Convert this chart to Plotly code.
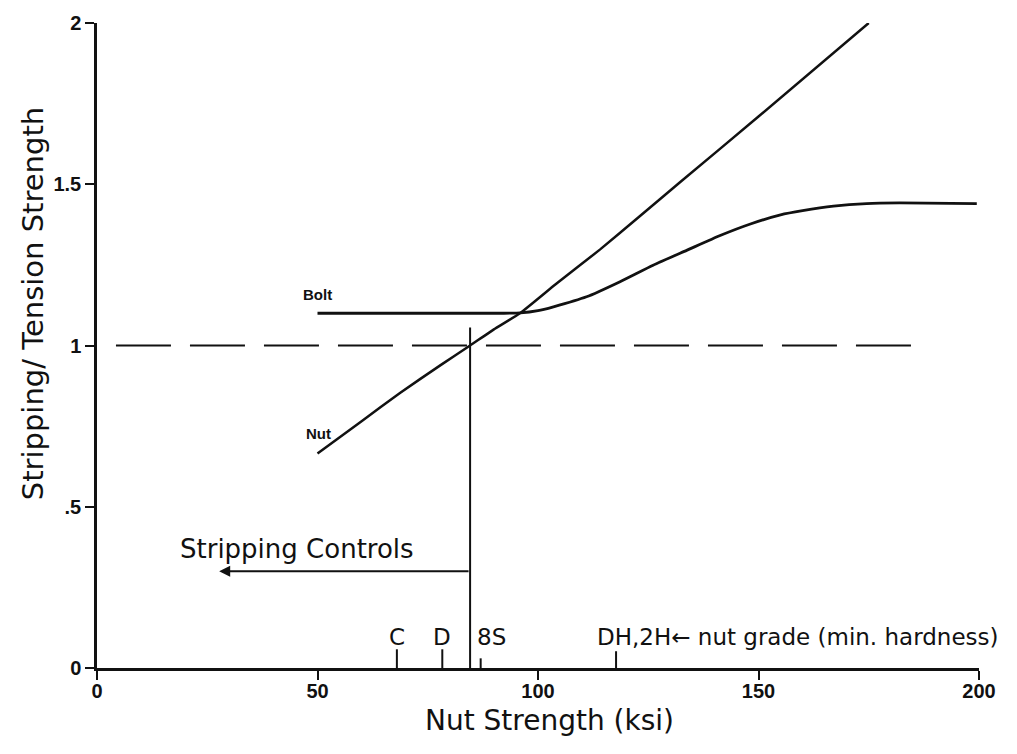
import plotly.graph_objects as go

# Nut stripping curve (stripping / tension strength vs nut strength)
nut_x = [50, 60, 68.7, 78, 84.6, 90, 95.9, 104, 114.1, 123, 132.2, 150, 175]
nut_y = [0.665, 0.765, 0.853, 0.94, 1.0, 1.05, 1.10, 1.19, 1.298, 1.40, 1.506, 1.71, 2.0]

# Bolt curve
bolt_x = [50, 92, 96, 100, 103.5, 111, 118.6, 126.1, 133.7, 141.3, 148, 155, 160, 167, 174.5, 182, 199.5]
bolt_y = [1.10, 1.10, 1.101, 1.108, 1.12, 1.151, 1.198, 1.249, 1.295, 1.341, 1.376, 1.405, 1.418, 1.432, 1.44, 1.442, 1.44]

# Ratio = 1 reference line
ref_x = [4.3, 187]
ref_y = [1.0, 1.0]

# Crossover nut strength where stripping controls below
cross_x = 84.6
cross_top = 1.056
arrow_y = 0.30
arrow_tip_x = 27.7

# Nut grades (minimum hardness) marked on the strength axis
grade_names = ["C", "D", "8S", "DH,2H"]
grade_strength = [68.0, 78.3, 87.0, 117.7]
grade_mark_h = [0.058, 0.058, 0.03, 0.052]

x_ticks = [0, 50, 100, 150, 200]
x_ticklabels = ["0", "50", "100", "150", "200"]
y_ticks = [0, 0.5, 1, 1.5, 2]
y_ticklabels = ["0", ".5", "1", "1.5", "2"]

ink = "#111111"
label_font = "DejaVu Sans"

fig = go.Figure()

fig.add_trace(go.Scatter(x=nut_x, y=nut_y, mode="lines",
                         line=dict(color=ink, width=2.5, shape="spline", smoothing=0.4),
                         showlegend=False, hoverinfo="skip"))
fig.add_trace(go.Scatter(x=bolt_x, y=bolt_y, mode="lines",
                         line=dict(color=ink, width=2.8, shape="spline", smoothing=0.5),
                         showlegend=False, hoverinfo="skip"))
fig.add_trace(go.Scatter(x=ref_x, y=ref_y, mode="lines",
                         line=dict(color=ink, width=2, dash="55px,19px"),
                         showlegend=False, hoverinfo="skip"))
fig.add_trace(go.Scatter(x=[cross_x, cross_x], y=[0, cross_top], mode="lines",
                         line=dict(color=ink, width=2),
                         showlegend=False, hoverinfo="skip"))

# grade marks rising from the x axis
gx, gy = [], []
for s, h in zip(grade_strength, grade_mark_h):
    gx += [s, s, None]
    gy += [0, h, None]
fig.add_trace(go.Scatter(x=gx, y=gy, mode="lines",
                         line=dict(color=ink, width=2),
                         showlegend=False, hoverinfo="skip"))

# arrow: stripping controls to the left of the crossover
fig.add_annotation(x=arrow_tip_x, y=arrow_y, ax=cross_x, ay=arrow_y,
                   xref="x", yref="y", axref="x", ayref="y",
                   text="", showarrow=True, arrowhead=2, arrowsize=1.1,
                   arrowwidth=2, arrowcolor=ink, standoff=0)
fig.add_annotation(x=45.3, y=0.369, xref="x", yref="y", text="Stripping Controls",
                   showarrow=False, xanchor="center", yanchor="middle",
                   font=dict(family=label_font, size=26, color=ink))

# curve labels
fig.add_annotation(x=49.9, y=1.159, xref="x", yref="y", text="Bolt", showarrow=False,
                   font=dict(family="Liberation Sans", size=15, color=ink, weight="bold"))
fig.add_annotation(x=50.2, y=0.727, xref="x", yref="y", text="Nut", showarrow=False,
                   font=dict(family="Liberation Sans", size=15, color=ink, weight="bold"))

# grade labels
grade_label_y = 0.096
fig.add_annotation(x=grade_strength[0], y=grade_label_y, text=grade_names[0], showarrow=False,
                   xanchor="center", yanchor="middle",
                   font=dict(family=label_font, size=23, color=ink))
fig.add_annotation(x=grade_strength[1], y=grade_label_y, text=grade_names[1], showarrow=False,
                   xanchor="center", yanchor="middle",
                   font=dict(family=label_font, size=23, color=ink))
fig.add_annotation(x=grade_strength[2] - 1.2, y=grade_label_y, text=grade_names[2], showarrow=False,
                   xanchor="left", yanchor="middle",
                   font=dict(family=label_font, size=23, color=ink))
fig.add_annotation(x=113.0, y=grade_label_y,
                   text=grade_names[3] + "\u2190 nut grade (min. hardness)", showarrow=False,
                   xanchor="left", yanchor="middle",
                   font=dict(family=label_font, size=23, color=ink))

# axis titles
fig.add_annotation(x=0.513, y=0, xref="paper", yref="paper", yshift=-52,
                   text="Nut Strength (ksi)", showarrow=False,
                   xanchor="center", yanchor="middle",
                   font=dict(family=label_font, size=28, color=ink))
fig.add_annotation(x=0, y=0.564, xref="paper", yref="paper", xshift=-64,
                   text="Stripping/ Tension Strength", showarrow=False, textangle=-90,
                   xanchor="center", yanchor="middle",
                   font=dict(family=label_font, size=29, color=ink))

tick_font = dict(family="Liberation Sans", size=20, color=ink, weight="bold")
fig.update_xaxes(range=[0, 200], tickvals=x_ticks, ticktext=x_ticklabels,
                 showline=True, linecolor=ink, linewidth=2.5,
                 ticks="outside", ticklen=9, tickwidth=2, tickcolor=ink,
                 ticklabelstandoff=-6,
                 showgrid=False, zeroline=False, tickfont=tick_font)
fig.update_yaxes(range=[0, 2], tickvals=y_ticks, ticktext=y_ticklabels,
                 showline=True, linecolor=ink, linewidth=2.5,
                 ticks="outside", ticklen=9, tickwidth=2, tickcolor=ink,
                 showgrid=False, zeroline=False, tickfont=tick_font)

fig.update_layout(width=1017, height=754,
                  margin=dict(l=97, r=38, t=20, b=86),
                  paper_bgcolor="white", plot_bgcolor="white",
                  showlegend=False)

fig.write_html("out.html")
